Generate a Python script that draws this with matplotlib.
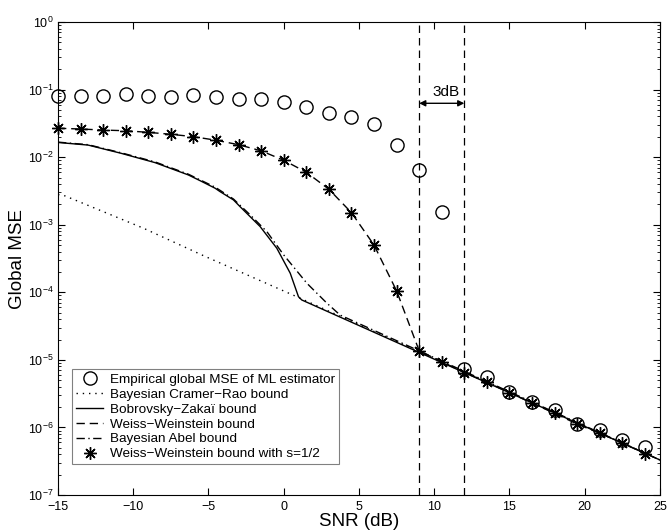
import numpy as np
import matplotlib
matplotlib.use("Agg")
import matplotlib.pyplot as plt
from matplotlib.lines import Line2D

plt.rcParams["font.family"] = ["Liberation Sans", "DejaVu Sans"]
plt.rcParams["mathtext.fontset"] = "custom"
plt.rcParams["mathtext.rm"] = "Liberation Sans"

# --- empirical ML estimator MSE (circles) ---
ml_snr = [-15, -13.5, -12, -10.5, -9, -7.5, -6, -4.5, -3, -1.5, 0, 1.5, 3, 4.5,
          6, 7.5, 9, 10.5, 12, 13.5, 15, 16.5, 18, 19.5, 21, 22.5, 24]
ml_mse = [0.081, 0.081, 0.080, 0.085, 0.080, 0.0785, 0.083, 0.077, 0.072, 0.0726,
          0.065, 0.056, 0.0446, 0.039, 0.0307, 0.0151, 0.0065, 0.00153,
          7.3e-6, 5.55e-6, 3.33e-6, 2.37e-6, 1.82e-6, 1.14e-6, 9.1e-7, 6.6e-7, 5.1e-7]

# --- Weiss-Weinstein bound, s = 1/2 (stars + dashed) ---
ww_snr = ml_snr
ww_mse = [0.0268, 0.0261, 0.0252, 0.0246, 0.0233, 0.0218, 0.0201, 0.0178, 0.0153,
          0.0124, 0.0090, 0.00598, 0.00335, 0.00151, 5.0e-4, 1.05e-4, 1.36e-5,
          9.4e-6, 6.5e-6, 4.68e-6, 3.28e-6, 2.29e-6, 1.62e-6, 1.12e-6, 8.2e-7,
          5.9e-7, 4.1e-7]

# --- Bobrovsky-Zakai bound ---
bz_snr = [-15, -13, -10.8, -8.55, -6.34, -5.56, -4.56, -4.23, -3.34, -2.90, -1.57,
          -0.46, 0.43, 0.98, 1.2, 25]
bz_mse = [0.0165, 0.0151, 0.0114, 0.0083, 0.00546, 0.00449, 0.00347, 0.00309,
          0.00233, 0.00185, 9.4e-4, 4.49e-4, 1.92e-4, 8.6e-5, 7.7e-5, 3.3e-7]

# --- Bayesian Abel bound ---
abel_snr = [-15, -13, -10.8, -8.55, -6.34, -4.56, -3.34, -2.23, -1.12, 0.0, 1.54,
            2.87, 3.75, 25]
abel_mse = [0.0167, 0.0153, 0.0116, 0.0085, 0.0056, 0.0036, 0.0024, 1.4e-3, 7.9e-4,
            3.57e-4, 1.36e-4, 6.9e-5, 4.6e-5, 3.3e-7]

# --- Bayesian Cramer-Rao bound ---
bcrb_snr = [-15, -14.53, -9.33, -5.34, 0.87, 25]
bcrb_mse = [2.8e-3, 2.67e-3, 8.9e-4, 3.49e-4, 8.6e-5, 3.3e-7]

# --- 3 dB gap markers ---
gap_snr = [9, 12]
gap_label = "3dB"

fig = plt.figure(figsize=(6.69, 5.32), dpi=100)
ax = fig.add_axes([0.0867, 0.0695, 0.8998, 0.8891])

lw = 1.0
ax.plot(bcrb_snr, bcrb_mse, color="black", lw=lw, linestyle=(0, (1, 3.5)))
ax.plot(abel_snr, abel_mse, color="black", lw=lw, linestyle=(0, (6, 2.5, 1, 2.5)))
ax.plot(ww_snr, ww_mse, color="black", lw=lw, linestyle=(0, (6, 3.5)))
ax.plot(bz_snr, bz_mse, color="black", lw=lw, linestyle="-")
ax.plot(ww_snr, ww_mse, linestyle="none", marker=(8, 2, 0), markersize=9,
        markeredgecolor="black", markeredgewidth=1.0, clip_on=False)
ax.plot(ml_snr, ml_mse, linestyle="none", marker="o", markersize=9.5,
        markerfacecolor="none", markeredgecolor="black", markeredgewidth=1.0,
        clip_on=False)

for g in gap_snr:
    ax.axvline(g, color="black", lw=0.9, linestyle=(0, (6, 4)))

ax.annotate("", xy=(gap_snr[0], 0.0627), xytext=(gap_snr[1], 0.0627),
            arrowprops=dict(arrowstyle="<|-|>", color="black", lw=1.0,
                            mutation_scale=9, shrinkA=0, shrinkB=0))
ax.text(np.mean(gap_snr) + 0.3, 0.093, gap_label, ha="center", va="center", fontsize=11)

ax.set_yscale("log")
ax.set_xlim(-15, 25)
ax.set_ylim(1e-7, 1e0)
ax.set_xticks(range(-15, 26, 5))
ax.tick_params(which="both", direction="in", top=True, right=True, labelsize=9, pad=3)
ax.tick_params(axis="x", pad=4)
ax.tick_params(which="major", length=5)
ax.tick_params(which="minor", length=2.5)
ax.set_xlabel("SNR (dB)", fontsize=13.5, labelpad=0)
ax.set_ylabel("Global MSE", fontsize=13.5, labelpad=1.5)

handles = [
    Line2D([], [], linestyle="none", marker="o", markersize=9.5, markerfacecolor="none",
           markeredgecolor="black"),
    Line2D([], [], color="black", lw=lw, linestyle=(0, (1, 3.5))),
    Line2D([], [], color="black", lw=lw, linestyle="-"),
    Line2D([], [], color="black", lw=lw, linestyle=(0, (6, 3.5))),
    Line2D([], [], color="black", lw=lw, linestyle=(0, (6, 2.5, 1, 2.5))),
    Line2D([], [], linestyle="none", marker=(8, 2, 0), markersize=9, markeredgecolor="black"),
]
labels = [
    "Empirical global MSE of ML estimator",
    "Bayesian Cramer\u2212Rao bound",
    "Bobrovsky\u2212Zaka\u00ef bound",
    "Weiss\u2212Weinstein bound",
    "Bayesian Abel bound",
    "Weiss\u2212Weinstein bound with s=1/2",
]
leg = ax.legend(handles, labels, loc="lower left", bbox_to_anchor=(0.024, 0.065),
                fontsize=9.7, fancybox=False, framealpha=1, edgecolor="gray",
                handlelength=2.0, handletextpad=0.5, labelspacing=0.18,
                borderpad=0.3, borderaxespad=0)
leg.get_frame().set_linewidth(0.8)

fig.savefig("out.png", dpi=100)
